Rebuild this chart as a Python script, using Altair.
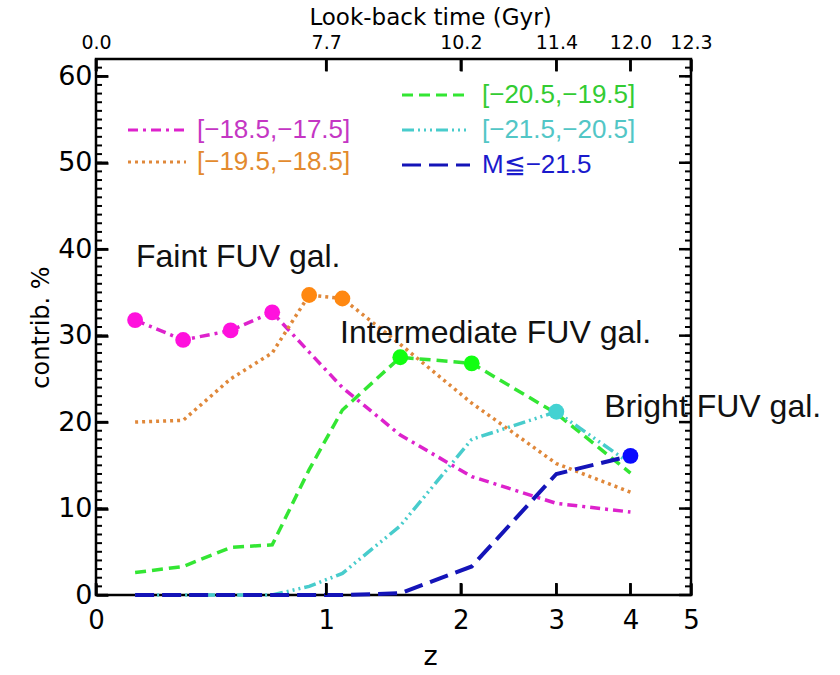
import json
import altair as alt
import pandas as pd

# ---------------- data ----------------
z_values = [0.125, 0.3, 0.5, 0.7, 0.9, 1.1, 1.5, 2.1, 3.0, 4.0]
contrib_m185_m175 = [31.8, 29.5, 30.6, 32.7, 28.1, 24.0, 18.5, 13.7, 10.6, 9.6]
contrib_m195_m185 = [20.0, 20.2, 25.0, 28.0, 34.7, 34.3, 29.0, 22.2, 15.2, 11.9]
contrib_m205_m195 = [2.6, 3.3, 5.5, 5.8, 14.5, 21.4, 27.5, 26.8, 21.0, 14.1]
contrib_m215_m205 = [0.0, 0.0, 0.0, 0.0, 1.0, 2.5, 8.0, 18.0, 21.2, 15.2]
contrib_brightest = [0.0, 0.0, 0.0, 0.0, 0.0, 0.0, 0.2, 3.3, 14.0, 16.1]
series_labels = ["[\u221218.5,\u221217.5]", "[\u221219.5,\u221218.5]",
                 "[\u221220.5,\u221219.5]", "[\u221221.5,\u221220.5]",
                 "M\u2266\u221221.5"]
# which population dominates (gets a filled marker) at each redshift
dominant_series = [0, 0, 0, 0, 1, 1, 2, 2, 3, 4]

z_tick_values = [0, 1, 2, 3, 4, 5]
z_tick_labels = ["0", "1", "2", "3", "4", "5"]
lookback_labels = ["0.0", "7.7", "10.2", "11.4", "12.0", "12.3"]
y_major_ticks = [0, 10, 20, 30, 40, 50, 60]
y_minor_ticks = list(range(0, 63))

annotation_text = ["Faint FUV gal.", "Intermediate FUV gal.", "Bright FUV gal."]
annotation_z = [0.128, 1.085, 3.62]
annotation_y = [39.1, 30.3, 21.8]

# ---------------- styles ----------------
PLOT_W, PLOT_H = 595, 536
MAJOR, MINOR = 12, 6
TITLE_X = 334
line_colors = ["#DD22CC", "#E0883A", "#33E633", "#48CCCC", "#1414B8"]
marker_colors = ["#FF11DD", "#FF8811", "#11FF11", "#44D2D2", "#0A0AFF"]
label_colors = ["#C436C4", "#E38A2E", "#33CC33", "#52C6C6", "#1A1ACC"]
dashes = [[10, 5, 3, 5], [3, 4], [11, 6], [12, 4, 2, 4, 2, 4, 2, 4], [19, 8]]
# (legendX, legendY, symbol length, label offset)
legend_pos = [(30, 40, 58, 9), (30, 72, 58, 9), (304, 0, 68, 10),
              (304, 35, 68, 10), (304, 70, 68, 10)]

AX_FONT = "DejaVu Sans"
TXT_FONT = "Liberation Sans"
TICK_COLOR = "#000000"

all_values = [contrib_m185_m175, contrib_m195_m185, contrib_m205_m195,
              contrib_m215_m205, contrib_brightest]
rows = []
for i, lab in enumerate(series_labels):
    for j, zz in enumerate(z_values):
        rows.append({"zp1": 1.0 + zz, "value": all_values[i][j], "series": lab,
                     "marked": dominant_series[j] == i})
df = pd.DataFrame(rows)

ann_df = pd.DataFrame({"zp1": [1.0 + a for a in annotation_z],
                       "value": annotation_y, "text": annotation_text})

xscale = alt.Scale(type="log", domain=[1, 6], nice=False)
yscale = alt.Scale(domain=[0, 62], nice=False, zero=False)
tick_vals_x = [1 + v for v in z_tick_values]

x_bottom = alt.Axis(orient="bottom", values=tick_vals_x,
                    labelExpr=f"{json.dumps(z_tick_labels)}[round(datum.value) - 1]",
                    offset=-MAJOR, tickSize=MAJOR, tickWidth=2.5, tickColor=TICK_COLOR,
                    ticks=True, domain=False, grid=False, labelFont=AX_FONT,
                    labelFontSize=26, labelColor="black", labelPadding=12,
                    labelFlush=False, labelOverlap=False, title="z", titleFont=AX_FONT,
                    titleFontSize=27, titleFontWeight="normal", titleColor="black",
                    titlePadding=10, titleX=TITLE_X, titleAlign="center")
x_top = alt.Axis(orient="top", values=tick_vals_x,
                 labelExpr=f"{json.dumps(lookback_labels)}[round(datum.value) - 1]",
                 offset=-MAJOR, tickSize=MAJOR, tickWidth=2.5, tickColor=TICK_COLOR,
                 ticks=True, domain=False, grid=False, labelFont=AX_FONT,
                 labelFontSize=19, labelColor="black", labelPadding=7,
                 labelFlush=False, labelOverlap=False, title="Look-back time (Gyr)",
                 titleFont=AX_FONT, titleFontSize=23, titleFontWeight="normal",
                 titleColor="black", titlePadding=4, titleX=TITLE_X, titleAlign="center")
y_left = alt.Axis(orient="left", values=y_major_ticks, offset=-MAJOR, tickSize=MAJOR,
                  tickWidth=2.5, tickColor=TICK_COLOR, ticks=True, domain=False,
                  grid=False, labelFont=AX_FONT, labelFontSize=27, labelColor="black",
                  labelPadding=4, labelFlush=False, labelOverlap=False,
                  title="contrib. %", titleFont=AX_FONT, titleFontSize=24,
                  titleFontWeight="normal", titleColor="black", titlePadding=4)

x_axes = [x_bottom, x_top, None, None, None]
y_axes = [y_left, None, None, None, None]

layers = []
for i, lab in enumerate(series_labels):
    lx, ly, ls, lo = legend_pos[i]
    leg = alt.Legend(orient="none", legendX=lx, legendY=ly, title=None, padding=0,
                     symbolType="stroke", symbolSize=ls * ls, symbolStrokeWidth=3.2,
                     labelFont=TXT_FONT, labelFontSize=26, labelColor=label_colors[i],
                     labelOffset=lo, labelLimit=400)
    layers.append(
        alt.Chart(df)
        .transform_filter(alt.FieldEqualPredicate(field="series", equal=lab))
        .mark_line(strokeWidth=3.5 if i < 4 else 4.0)
        .encode(
            x=alt.X("zp1:Q", scale=xscale, axis=x_axes[i]),
            y=alt.Y("value:Q", scale=yscale, axis=y_axes[i]),
            color=alt.Color("series:N", scale=alt.Scale(domain=[lab], range=[line_colors[i]]),
                            legend=leg),
            strokeDash=alt.StrokeDash("series:N",
                                      scale=alt.Scale(domain=[lab], range=[dashes[i]]),
                                      legend=leg),
        )
    )

points = (
    alt.Chart(df)
    .transform_filter(alt.FieldEqualPredicate(field="marked", equal=True))
    .mark_circle(size=250, opacity=1)
    .encode(
        x=alt.X("zp1:Q", scale=xscale, axis=None),
        y=alt.Y("value:Q", scale=yscale, axis=None),
        color=alt.Color("series:N", scale=alt.Scale(domain=series_labels, range=marker_colors),
                        legend=None),
    )
)

texts = (
    alt.Chart(ann_df)
    .mark_text(align="left", baseline="middle", font=TXT_FONT, fontSize=32, color="#111111")
    .encode(
        x=alt.X("zp1:Q", scale=xscale, axis=None),
        y=alt.Y("value:Q", scale=yscale, axis=None),
        text="text:N",
    )
)

# inward frame ticks: minor + major on both y sides, major on top and bottom
ymaj_df = pd.DataFrame({"t": y_major_ticks})
ymin_df = pd.DataFrame({"t": y_minor_ticks})
xmaj_df = pd.DataFrame({"t": tick_vals_x})


def yticks(data, x0, x1, w):
    return alt.Chart(data).mark_rule(color=TICK_COLOR, strokeWidth=w, opacity=1).encode(
        y=alt.Y("t:Q", scale=yscale, axis=None), x=alt.value(x0), x2=alt.value(x1))


def xticks(y0, y1):
    return alt.Chart(xmaj_df).mark_rule(color=TICK_COLOR, strokeWidth=2.5, opacity=1).encode(
        x=alt.X("t:Q", scale=xscale, axis=None), y=alt.value(y0), y2=alt.value(y1))


tick_layers = [
    yticks(ymin_df, 0, MINOR, 2), yticks(ymaj_df, 0, MAJOR, 2.5),
    yticks(ymin_df, PLOT_W - MINOR, PLOT_W, 2), yticks(ymaj_df, PLOT_W - MAJOR, PLOT_W, 2.5),
    xticks(0, MAJOR), xticks(PLOT_H - MAJOR, PLOT_H),
]

chart = (
    alt.layer(*layers, *tick_layers, points, texts)
    .resolve_scale(color="independent", strokeDash="independent")
    .resolve_axis(x="independent", y="independent")
    .resolve_legend(color="independent", strokeDash="independent")
    .properties(width=PLOT_W, height=PLOT_H,
                padding={"left": 96, "top": 59, "right": 149, "bottom": 80},
                autosize=alt.AutoSizeParams(type="none"), background="white")
    .configure_view(stroke="black", strokeWidth=2.5)
)

chart.save("out.html", embed_options={"renderer": "svg", "actions": False})
